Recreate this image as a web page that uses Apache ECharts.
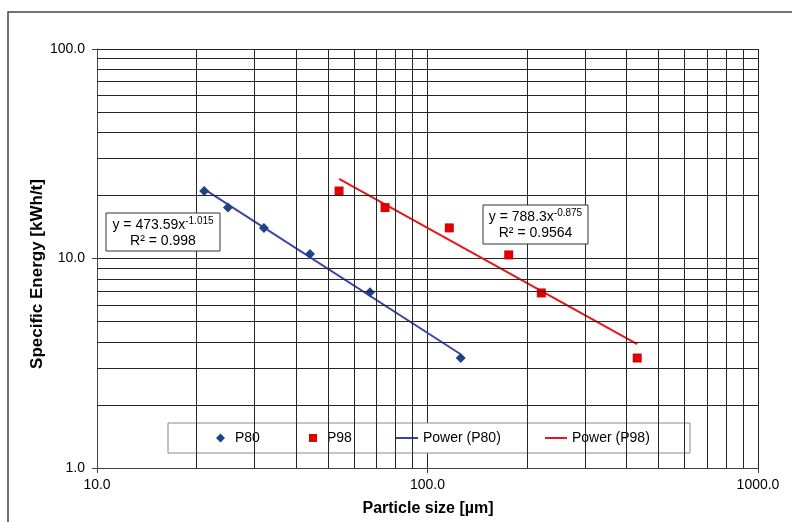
<!DOCTYPE html>
<html>
<head>
<meta charset="utf-8">
<script src="https://cdn.jsdelivr.net/npm/echarts@6/dist/echarts.min.js"></script>
<style>
html,body{margin:0;padding:0;background:#fff;}
#chart{width:792px;height:522px;}
</style>
</head>
<body>
<div id="chart"></div>
<script>
// ---- data ----
const p80X = [21.1, 24.9, 32.0, 44.1, 67.0, 126];
const p80Y = [21.0, 17.5, 14.0, 10.5, 6.9, 3.35];
const p98X = [54.0, 74.4, 116.4, 176.1, 221, 431];
const p98Y = [21.0, 17.5, 14.0, 10.4, 6.85, 3.35];
// trendline end points (power fits shown in chart)
const powP80X = [21.1, 126];
const powP80Y = [21.44, 3.49];
const powP98X = [54.0, 431];
const powP98Y = [24.0, 3.905];
// gridlines between decades
const xGrid = [20, 30, 40, 50, 60, 70, 80, 90, 200, 300, 400, 500, 600, 700, 800, 900];
const yGrid = [2, 3, 4, 5, 6, 7, 8, 9, 20, 30, 40, 50, 60, 70, 80, 90];
const xRange = [10, 1000];
const yRange = [1, 100];
const eqP80 = ['y = 473.59x', '-1.015', 'R² = 0.998'];
const eqP98 = ['y = 788.3x', '-0.875', 'R² = 0.9564'];

const FONT = '"Liberation Sans", Arial, sans-serif';
const GRID = '#262626';
const pairs = (xs, ys) => xs.map((x, i) => [x, ys[i]]);

const chart = echarts.init(document.getElementById('chart'), null, {renderer: 'canvas'});

function legendItem(name, left, icon, w, h, pad) {
  return {
    data: [name], left: left, top: 430, padding: 0, icon: icon,
    itemWidth: w, itemHeight: h, selectedMode: false, z: 5,
    itemStyle: {opacity: 1},
    textStyle: {fontFamily: FONT, fontSize: 14, color: '#000', lineHeight: 16, padding: [0, 0, 0, pad]}
  };
}

function eqBox(x, y, w, h, lines) {
  return [
    {type: 'rect', z: 10, shape: {x: x, y: y, width: w, height: h},
     style: {fill: '#fff', stroke: '#333', lineWidth: 1}},
    {type: 'text', z: 11, x: x + w / 2, y: y + h / 2 - 8,
     style: {text: '{a|' + lines[0] + '}{s|' + lines[1] + '}', align: 'center', verticalAlign: 'middle',
       rich: {a: {fontFamily: FONT, fontSize: 14, lineHeight: 16, verticalAlign: 'bottom', fill: '#000'},
              s: {fontFamily: FONT, fontSize: 10, lineHeight: 16, verticalAlign: 'top', fill: '#000', padding: [0, 0, 6, 0]}}}},
    {type: 'text', z: 11, x: x + w / 2, y: y + h / 2 + 9,
     style: {text: lines[2], align: 'center', verticalAlign: 'middle', fontFamily: FONT, fontSize: 14, fill: '#000'}}
  ];
}

const option = {
  animation: false,
  backgroundColor: '#fff',
  grid: {left: 97, right: 34, top: 49, bottom: 54},
  xAxis: {
    type: 'log', logBase: 10, min: xRange[0], max: xRange[1],
    axisLine: {show: true, lineStyle: {color: '#444', width: 1}},
    axisTick: {show: true, length: 5, lineStyle: {color: '#444'}},
    axisLabel: {fontFamily: FONT, fontSize: 14, color: '#000', margin: 10,
      formatter: v => Number(v).toFixed(1)},
    splitLine: {show: true, lineStyle: {color: GRID, width: 1}}
  },
  yAxis: {
    type: 'log', logBase: 10, min: yRange[0], max: yRange[1],
    axisLine: {show: true, lineStyle: {color: '#444', width: 1}},
    axisTick: {show: true, length: 5, lineStyle: {color: '#444'}},
    axisLabel: {fontFamily: FONT, fontSize: 14, color: '#000', margin: 12,
      formatter: v => Number(v).toFixed(1)},
    splitLine: {show: true, lineStyle: {color: GRID, width: 1}}
  },
  legend: [
    legendItem('P80', 216, 'diamond', 9, 9, 5),
    legendItem('P98', 309, 'rect', 8, 8, 5),
    legendItem('Power (P80)', 396, 'rect', 22, 2, 0),
    legendItem('Power (P98)', 545, 'rect', 22, 2, 0)
  ],
  graphic: [
    {type: 'rect', z: -1, silent: true, shape: {x: 8, y: 12, width: 900, height: 700},
     style: {fill: 'none', stroke: '#444', lineWidth: 1.5}},
    {type: 'rect', z: 4, shape: {x: 168, y: 423, width: 522, height: 30},
     style: {fill: '#fff', stroke: '#8a8a8a', lineWidth: 1}},
    {type: 'text', z: 5, x: 428, y: 509,
     style: {text: 'Particle size [µm]', align: 'center', verticalAlign: 'middle',
       fontFamily: FONT, fontSize: 16, fontWeight: 'bold', fill: '#000'}},
    {type: 'text', z: 5, x: 37, y: 274, rotation: Math.PI / 2,
     style: {text: 'Specific Energy [kWh/t]', align: 'center', verticalAlign: 'middle',
       fontFamily: FONT, fontSize: 17, fontWeight: 'bold', fill: '#000'}}
  ].concat(eqBox(106, 213, 114, 38, eqP80), eqBox(483, 205, 105, 39, eqP98)),
  series: [
    {
      name: 'gridlines', type: 'line', data: [], z: 1, silent: true,
      markLine: {
        silent: true, animation: false, symbol: ['none', 'none'],
        label: {show: false}, emphasis: {disabled: true},
        lineStyle: {color: GRID, width: 1, type: 'solid'},
        data: xGrid.map(v => ({xAxis: v})).concat(yGrid.map(v => ({yAxis: v})))
      }
    },
    {name: 'Power (P80)', type: 'line', data: pairs(powP80X, powP80Y), symbol: 'none', z: 3,
     lineStyle: {color: '#3A44A6', width: 2}, itemStyle: {color: '#3A44A6'}},
    {name: 'Power (P98)', type: 'line', data: pairs(powP98X, powP98Y), symbol: 'none', z: 3,
     lineStyle: {color: '#E8161B', width: 2}, itemStyle: {color: '#E8161B'}},
    {name: 'P80', type: 'scatter', data: pairs(p80X, p80Y), symbol: 'diamond', symbolSize: 10, z: 4,
     itemStyle: {color: '#1F4288', opacity: 1}},
    {name: 'P98', type: 'scatter', data: pairs(p98X, p98Y), symbol: 'rect', symbolSize: 9, z: 4,
     itemStyle: {color: '#E00000', opacity: 1}}
  ]
};
chart.setOption(option);
</script>
</body>
</html>
